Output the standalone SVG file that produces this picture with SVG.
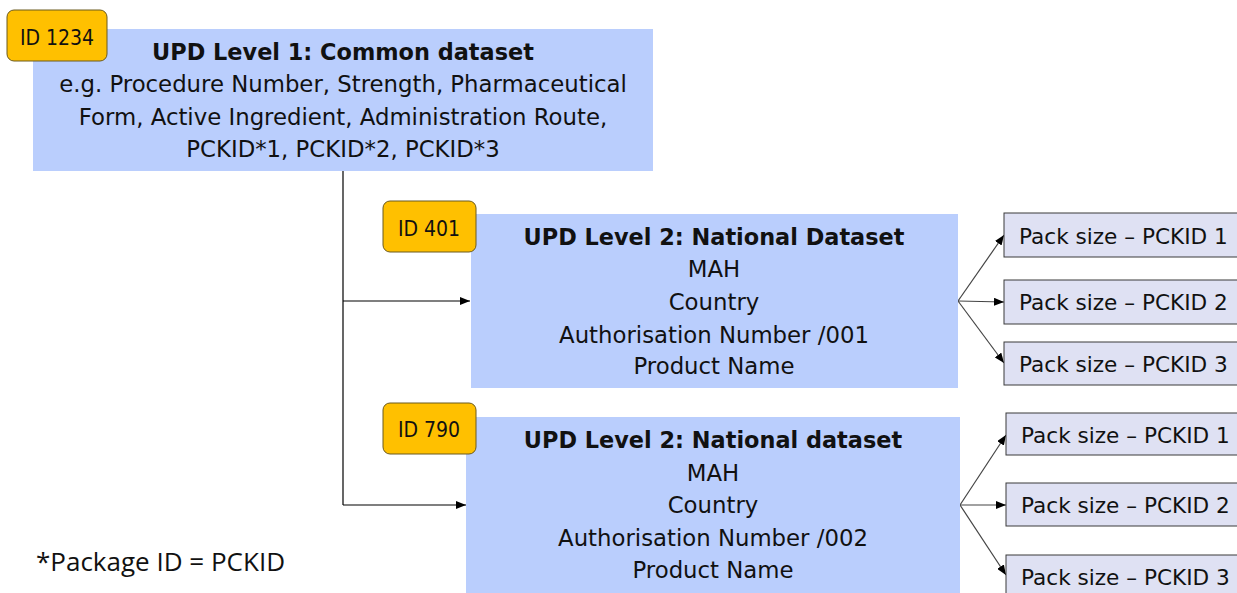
<svg xmlns="http://www.w3.org/2000/svg" width="1237" height="593" viewBox="0 0 1237 593">
<defs>
<marker id="arr" markerWidth="10" markerHeight="8" refX="10" refY="4" orient="auto" markerUnits="userSpaceOnUse">
<path d="M0,0 L10,4 L0,8 Z" fill="#000"/>
</marker>
<style>
.main{fill:#BACEFD}
.badge{fill:#FFC000;stroke:#6B5A1E;stroke-width:1}
.pack{fill:#DFE1F3;stroke:#3A3A3A;stroke-width:1}
.t{font-family:"DejaVu Sans",Verdana,sans-serif;font-size:22.8px;fill:#111;text-anchor:middle}
.b{font-weight:bold;font-size:22.4px}
.id{font-family:"DejaVu Sans Condensed","DejaVu Sans",sans-serif;font-stretch:condensed;font-size:21px}
.p{font-family:"DejaVu Sans",Verdana,sans-serif;font-size:21.6px;fill:#111}
.c{fill:none;stroke:#000;stroke-width:1.2}
.c2{fill:none;stroke:#444;stroke-width:1.2}
</style>
</defs>
<rect width="1237" height="593" fill="#fff"/>
<g id="connectors">
<path class="c" d="M343,171 V505"/>
<path class="c" d="M343,301 H470" marker-end="url(#arr)"/>
<path class="c" d="M343,505 H466" marker-end="url(#arr)"/>
<path class="c2" d="M958,301 L1004,235" marker-end="url(#arr)"/>
<path class="c2" d="M958,301 L1004,302" marker-end="url(#arr)"/>
<path class="c2" d="M958,301 L1004,363" marker-end="url(#arr)"/>
<path class="c2" d="M960,505 L1006,435" marker-end="url(#arr)"/>
<path class="c2" d="M960,505 L1006,505" marker-end="url(#arr)"/>
<path class="c2" d="M960,505 L1006,575" marker-end="url(#arr)"/>
</g>
<g id="level1">
<rect class="main" x="33" y="29" width="620" height="142"/>
<text class="t b" x="343" y="60">UPD Level 1: Common dataset</text>
<text class="t" x="343" y="92">e.g. Procedure Number, Strength, Pharmaceutical</text>
<text class="t" x="343" y="125">Form, Active Ingredient, Administration Route,</text>
<text class="t" x="343" y="157">PCKID*1, PCKID*2, PCKID*3</text>
</g>
<g id="id1234">
<rect class="badge" x="7" y="10" width="100" height="51" rx="7"/>
<text class="t id" x="57" y="45">ID 1234</text>
</g>
<g id="level2a">
<rect class="main" x="471" y="214" width="487" height="174"/>
<text class="t b" x="714" y="245">UPD Level 2: National Dataset</text>
<text class="t" x="714" y="277">MAH</text>
<text class="t" x="714" y="310">Country</text>
<text class="t" x="714" y="343">Authorisation Number /001</text>
<text class="t" x="714" y="374">Product Name</text>
</g>
<g id="id401">
<rect class="badge" x="383" y="201" width="93" height="51" rx="7"/>
<text class="t id" x="429" y="236">ID 401</text>
</g>
<g id="level2b">
<rect class="main" x="466" y="417" width="494" height="176"/>
<text class="t b" x="713" y="448">UPD Level 2: National dataset</text>
<text class="t" x="713" y="481">MAH</text>
<text class="t" x="713" y="513">Country</text>
<text class="t" x="713" y="546">Authorisation Number /002</text>
<text class="t" x="713" y="578">Product Name</text>
</g>
<g id="id790">
<rect class="badge" x="383" y="403" width="93" height="51" rx="7"/>
<text class="t id" x="429" y="437">ID 790</text>
</g>
<g id="pack-a1"><rect class="pack" x="1004" y="213" width="240" height="44"/><text class="p" x="1019" y="244">Pack size – PCKID 1</text></g>
<g id="pack-a2"><rect class="pack" x="1004" y="280" width="240" height="44"/><text class="p" x="1019" y="310">Pack size – PCKID 2</text></g>
<g id="pack-a3"><rect class="pack" x="1004" y="342" width="240" height="43"/><text class="p" x="1019" y="372">Pack size – PCKID 3</text></g>
<g id="pack-b1"><rect class="pack" x="1006" y="413" width="240" height="42"/><text class="p" x="1021" y="443">Pack size – PCKID 1</text></g>
<g id="pack-b2"><rect class="pack" x="1006" y="483" width="240" height="43"/><text class="p" x="1021" y="513">Pack size – PCKID 2</text></g>
<g id="pack-b3"><rect class="pack" x="1006" y="555" width="240" height="50"/><text class="p" x="1021" y="585">Pack size – PCKID 3</text></g>
<text x="36" y="571" font-family="'Open Sans',Calibri,sans-serif" font-size="26" fill="#111">*Package ID = PCKID</text>
</svg>
